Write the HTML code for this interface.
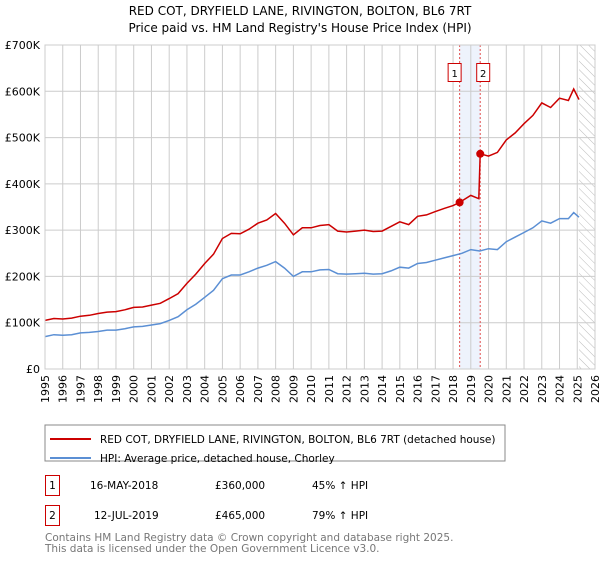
<!DOCTYPE html>
<html><head><meta charset="utf-8"><style>
body{margin:0;background:#fff;font-family:"Liberation Sans","DejaVu Sans",sans-serif;}
</style></head><body>
<svg width="600" height="560" xmlns="http://www.w3.org/2000/svg" font-family="DejaVu Sans, Liberation Sans, sans-serif">
<text x="300" y="15" text-anchor="middle" font-size="12">RED COT, DRYFIELD LANE, RIVINGTON, BOLTON, BL6 7RT</text>
<text x="300" y="32" text-anchor="middle" font-size="12">Price paid vs. HM Land Registry's House Price Index (HPI)</text>
<defs><pattern id="hatch" width="6" height="6" patternUnits="userSpaceOnUse" patternTransform="rotate(-45)"><line x1="0" y1="0" x2="0" y2="6" stroke="#bbb" stroke-width="1"/></pattern></defs>
<g id="grid"></g>
<g id="marks"></g>
<g id="axes"></g>
<rect x="45" y="425" width="460" height="36" fill="#fff" stroke="#888"/>
<line x1="50" y1="439" x2="91" y2="439" stroke="#cc0000" stroke-width="2"/>
<text x="100" y="443" font-size="10.5">RED COT, DRYFIELD LANE, RIVINGTON, BOLTON, BL6 7RT (detached house)</text>
<line x1="50" y1="458" x2="91" y2="458" stroke="#5b8fd4" stroke-width="2"/>
<text x="100" y="462" font-size="10.5">HPI: Average price, detached house, Chorley</text>
<rect x="45.5" y="475.5" width="14" height="20" fill="#fff" stroke="#cc0000"/>
<text x="52.5" y="489" font-size="10.5" text-anchor="middle">1</text>
<text x="90" y="489" font-size="10.5">16-MAY-2018</text>
<text x="215" y="489" font-size="10.5">£360,000</text>
<text x="312" y="489" font-size="10.5">45% ↑ HPI</text>
<rect x="45.5" y="505.5" width="14" height="20" fill="#fff" stroke="#cc0000"/>
<text x="52.5" y="519" font-size="10.5" text-anchor="middle">2</text>
<text x="94" y="519" font-size="10.5">12-JUL-2019</text>
<text x="215" y="519" font-size="10.5">£465,000</text>
<text x="312" y="519" font-size="10.5">79% ↑ HPI</text>
<text x="45" y="541" font-size="10.5" fill="#777">Contains HM Land Registry data © Crown copyright and database right 2025.</text>
<text x="45" y="552" font-size="10.5" fill="#777">This data is licensed under the Open Government Licence v3.0.</text>
</svg>
<script>
const hpiYears=[1995,1995.5,1996,1996.5,1997,1997.5,1998,1998.5,1999,1999.5,2000,2000.5,2001,2001.5,2002,2002.5,2003,2003.5,2004,2004.5,2005,2005.5,2006,2006.5,2007,2007.5,2008,2008.5,2009,2009.5,2010,2010.5,2011,2011.5,2012,2012.5,2013,2013.5,2014,2014.5,2015,2015.5,2016,2016.5,2017,2017.5,2018,2018.5,2019,2019.5,2020,2020.5,2021,2021.5,2022,2022.5,2023,2023.5,2024,2024.5,2024.8,2025.1];
const hpiValues=[70,74,73,74,78,79,81,84,84,87,91,92,95,98,105,113,128,140,155,170,195,203,203,210,218,224,232,218,200,210,210,214,215,206,205,206,207,205,206,212,220,218,228,230,235,240,245,250,258,255,260,258,275,285,295,305,320,315,325,325,338,328];
const priceYears=[1995,1995.5,1996,1996.5,1997,1997.5,1998,1998.5,1999,1999.5,2000,2000.5,2001,2001.5,2002,2002.5,2003,2003.5,2004,2004.5,2005,2005.5,2006,2006.5,2007,2007.5,2008,2008.5,2009,2009.5,2010,2010.5,2011,2011.5,2012,2012.5,2013,2013.5,2014,2014.5,2015,2015.5,2016,2016.5,2017,2017.5,2018,2018.37,2019,2019.45,2019.53,2020,2020.5,2021,2021.5,2022,2022.5,2023,2023.5,2024,2024.5,2024.8,2025.1];
const priceValues=[105,109,108,110,114,116,120,123,124,128,133,134,138,142,152,163,185,205,228,248,282,293,292,302,315,322,336,315,290,305,305,310,312,298,296,298,300,297,298,308,318,312,330,333,340,347,353,360,375,368,465,460,468,495,510,530,548,575,565,585,580,605,582];
const saleYears=[2018.37,2019.53];
const saleValues=[360,465];
const saleLabels=["1","2"];
const yTicks=[0,100,200,300,400,500,600,700];
const yTickLabels=["£0","£100K","£200K","£300K","£400K","£500K","£600K","£700K"];
const xTicks=[1995,1996,1997,1998,1999,2000,2001,2002,2003,2004,2005,2006,2007,2008,2009,2010,2011,2012,2013,2014,2015,2016,2017,2018,2019,2020,2021,2022,2023,2024,2025,2026];
const X0=45,X1=595,Y0=369,Y1=45;
const xs=v=>X0+(v-1995)/(2026-1995)*(X1-X0);
const ys=v=>Y0-v/700*(Y0-Y1);
const NS="http://www.w3.org/2000/svg";
function mk(tag,attrs,parent,text){const e=document.createElementNS(NS,tag);for(const k in attrs)e.setAttribute(k,attrs[k]);if(text!==undefined)e.textContent=text;document.getElementById(parent).appendChild(e);return e;}
// shaded sale span
let e=mk('rect',{x:xs(saleYears[0]),y:Y1,width:xs(saleYears[1])-xs(saleYears[0]),height:Y0-Y1,fill:'#eef3fc'},'grid');


e=mk('rect',{x:xs(2025.1),y:Y1,width:X1-xs(2025.1),height:Y0-Y1,fill:'url(#hatch)'},'grid');


xTicks.forEach(t=>{const g=mk('line',{x1:xs(t),x2:xs(t),y1:Y1,y2:Y0,stroke:'#ccc'},'grid');


const l=mk('text',{x:0,y:0,transform:`translate(${xs(t)+4},${Y0+6}) rotate(-90)`,'text-anchor':'end','font-size':'11'},'axes',String(t));

});
yTicks.forEach((t,i)=>{const g=mk('line',{x1:X0,x2:X1,y1:ys(t),y2:ys(t),stroke:'#ccc'},'grid');


const l=mk('text',{x:X0-5,y:ys(t)+4,'text-anchor':'end','font-size':'11'},'axes',yTickLabels[i]);

});
e=mk('rect',{x:X0,y:Y1,width:X1-X0,height:Y0-Y1,fill:'none',stroke:'#ccc'},'axes');


saleYears.forEach((s,i)=>{const l=mk('line',{x1:xs(s),x2:xs(s),y1:Y1,y2:Y0,stroke:'#e05050','stroke-dasharray':'2,2'},'marks');


const bx=i==0?xs(s)-11:xs(s)-3;
const r=mk('rect',{x:bx-0.5,y:63.5,width:13,height:18,fill:'#fff',stroke:'#cc0000'},'marks');


mk('text',{x:bx+6,y:77,'text-anchor':'middle','font-size':'10'},'marks',saleLabels[i]);});
function path(xa,va,color,name){const d=xa.map((x,i)=>(i?'L':'M')+xs(x).toFixed(1)+','+ys(va[i]).toFixed(1)).join('');
const p=mk('path',{d:d,fill:'none',stroke:color,'stroke-width':1.5},'marks');

}
path(hpiYears,hpiValues,'#5b8fd4','hpi-line');
path(priceYears,priceValues,'#cc0000','price-line');
saleYears.forEach((s,i)=>{const c=mk('circle',{cx:xs(s),cy:ys(saleValues[i]),r:4,fill:'#cc0000'},'marks');

});
</script>
</body></html>
